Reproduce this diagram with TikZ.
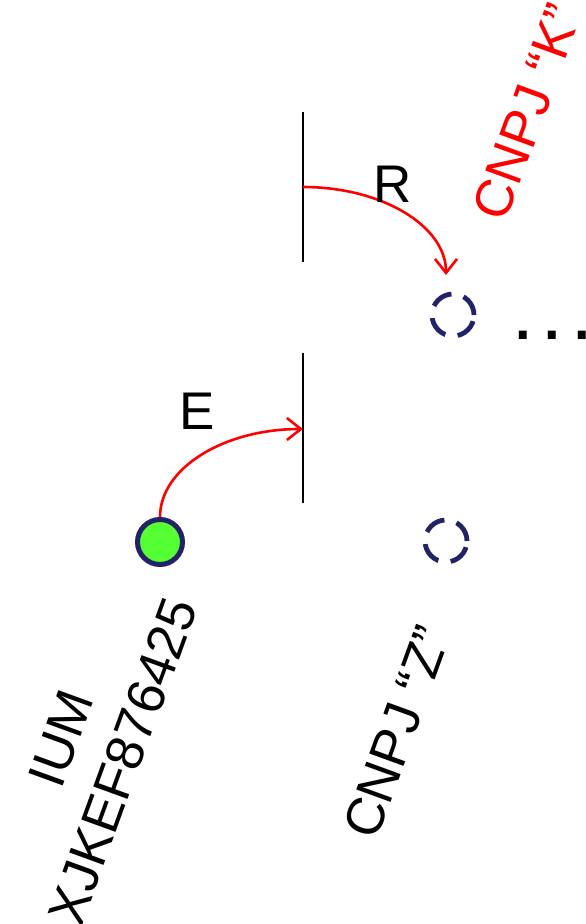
\documentclass[tikz,border=0pt]{standalone}
\usepackage{fontspec}
\setmainfont{Liberation Sans}
\usetikzlibrary{arrows.meta}
\definecolor{navy}{RGB}{34,34,102}
\definecolor{lgreen}{RGB}{85,255,51}
\begin{document}
\begin{tikzpicture}[x=1pt,y=-1pt,
 bar/.style={line width=2.2pt},
 arc/.style={red,line width=2.6pt,-{Straight Barb[length=14pt,width=22pt,line width=2.6pt]}},
 ghost/.style={circle,draw=navy,line width=4.8pt,dash pattern=on 22pt off 12.5pt,minimum size=42pt,inner sep=0pt},
 token/.style={circle,draw=navy,fill=lgreen,line width=5pt,minimum size=45pt,inner sep=0pt},
 big/.style={font=\fontsize{53}{60}\selectfont,inner sep=0pt},
 rot/.style={font=\fontsize{53}{66}\selectfont,rotate=70,align=center,inner sep=0pt}]
\useasboundingbox (0,0) rectangle (586,924);
% bars
\coordinate (b1t) at (303,353);
\coordinate (b1b) at (303,503);
\coordinate (b1m) at (303,429);
\coordinate (b2t) at (303,112);
\coordinate (b2b) at (303,262);
\coordinate (b2m) at (303,187);
\draw[bar] (b1t) -- (b1b);
\draw[bar] (b2t) -- (b2b);
% places
\node[token] (g) at (160,542) {};
\node[ghost] (k) at (453,315) {};
\node[ghost] (z) at (446,541) {};
\coordinate (rt) at (446,275);
% arcs
\draw[arc] (g.north) .. controls (160,468) and (224,429) .. (b1m);
\draw[arc] (b2m) .. controls (382,187) and (446,226) .. (rt);
% labels
\node[big] (E) at (197,411) {E};
\node[big] (R) at (393,184) {R};
\node[big,font=\fontsize{56}{60}\selectfont\bfseries,anchor=base west] (dots) at (515,339) {.\hspace{14pt}.\hspace{14pt}.};
\node[rot] (ium) at (92,750) {IUM\\XJKEF876425};
\node[rot] (cz) at (397,732) {CNPJ “Z”};
\node[rot,red] (ck) at (527,112) {CNPJ “K”};
\end{tikzpicture}
\end{document}
